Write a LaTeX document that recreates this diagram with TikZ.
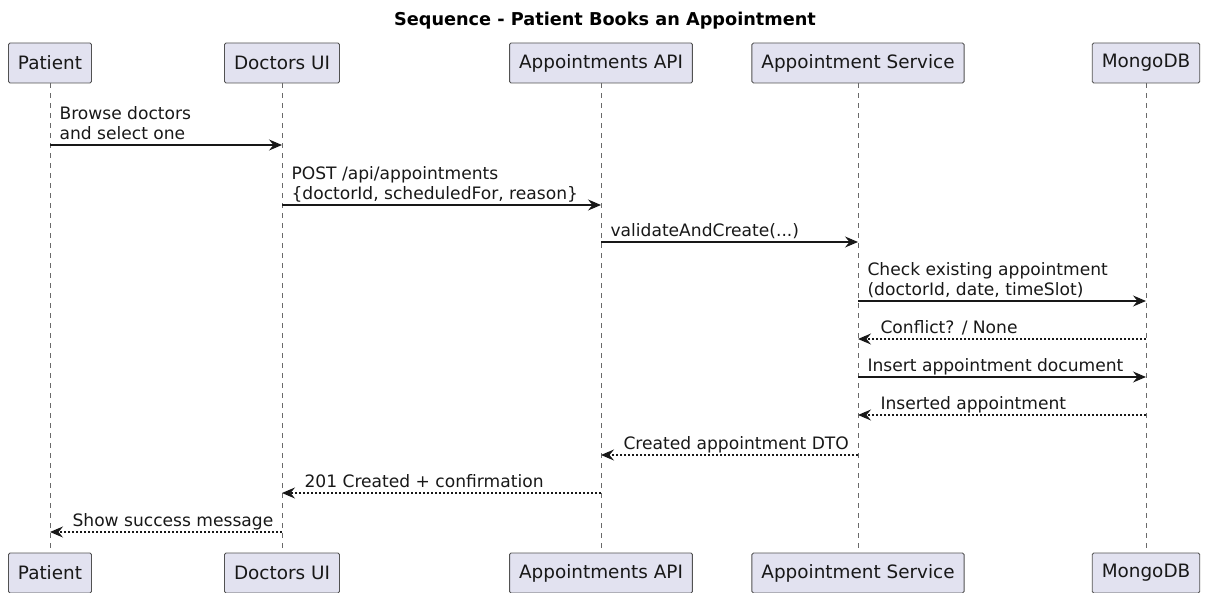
\documentclass[tikz,border=0pt]{standalone}
\usepackage{fontspec}
\setmainfont{DejaVu Sans}
\usetikzlibrary{arrows.meta}
\definecolor{partfill}{HTML}{E2E2F0}
\definecolor{umlline}{HTML}{181818}
\tikzset{
    part/.style={draw=umlline!75, fill=partfill, rounded corners=1.5pt, line width=0.9pt,
        minimum height=40pt, inner xsep=9.5pt, font=\fontsize{18.4}{22}\selectfont, text=umlline},
    life/.style={draw=umlline!65, line width=0.8pt, dash pattern=on 5pt off 5pt},
    msg/.style={draw=umlline, line width=1.1pt, -{Stealth[length=13pt, width=11pt, inset=4.5pt]}},
    reply/.style={msg, dash pattern=on 2pt off 2pt},
    lbl/.style={font=\fontsize{17.1}{20}\selectfont, text=umlline, align=left,
        inner sep=0pt, text depth=0pt, anchor=south west, yshift=5pt},
}
\begin{document}
\begin{tikzpicture}[x=1pt, y=-1pt]
    \useasboundingbox (0, 0) rectangle (1210, 593);
        \node[font=\bfseries\fontsize{17.7}{21}\selectfont, text=black] (title) at (605, 21) {Sequence - Patient Books an Appointment};
        % participants, top and bottom
        \node[part] (patT) at (50, 63) {Patient};
        \node[part] (docT) at (282, 63) {Doctors UI};
        \node[part] (apiT) at (601, 63) {Appointments API};
        \node[part] (svcT) at (858, 63) {Appointment Service};
        \node[part] (dbT) at (1146, 63) {MongoDB};
        \node[part] (patB) at (50, 573) {Patient};
        \node[part] (docB) at (282, 573) {Doctors UI};
        \node[part] (apiB) at (601, 573) {Appointments API};
        \node[part] (svcB) at (858, 573) {Appointment Service};
        \node[part] (dbB) at (1146, 573) {MongoDB};
        \foreach \p in {pat, doc, api, svc, db}
            \draw[life] (\p T) -- (\p B);
        % messages
        \draw[msg] (patT |- 0, 145) -- node[lbl, at start, xshift=9pt] {Browse doctors\\and select one} (docT |- 0, 145);
        \draw[msg] (docT |- 0, 205) -- node[lbl, at start, xshift=9pt] {POST /api/appointments\\\{doctorId, scheduledFor, reason\}} (apiT |- 0, 205);
        \draw[msg] (apiT |- 0, 242) -- node[lbl, at start, xshift=9pt] {validateAndCreate(...)} (svcT |- 0, 242);
        \draw[msg] (svcT |- 0, 301) -- node[lbl, at start, xshift=9pt] {Check existing appointment\\(doctorId, date, timeSlot)} (dbT |- 0, 301);
        \draw[reply] (dbT |- 0, 339) -- node[lbl, at end, xshift=22pt] {Conflict? / None} (svcT |- 0, 339);
        \draw[msg] (svcT |- 0, 377) -- node[lbl, at start, xshift=9pt] {Insert appointment document} (dbT |- 0, 377);
        \draw[reply] (dbT |- 0, 415) -- node[lbl, at end, xshift=22pt] {Inserted appointment} (svcT |- 0, 415);
        \draw[reply] (svcT |- 0, 455) -- node[lbl, at end, xshift=22pt] {Created appointment DTO} (apiT |- 0, 455);
        \draw[reply] (apiT |- 0, 493) -- node[lbl, at end, xshift=22pt] {201 Created + confirmation} (docT |- 0, 493);
        \draw[reply] (docT |- 0, 532) -- node[lbl, at end, xshift=22pt] {Show success message} (patT |- 0, 532);
    \end{tikzpicture}
\end{document}
